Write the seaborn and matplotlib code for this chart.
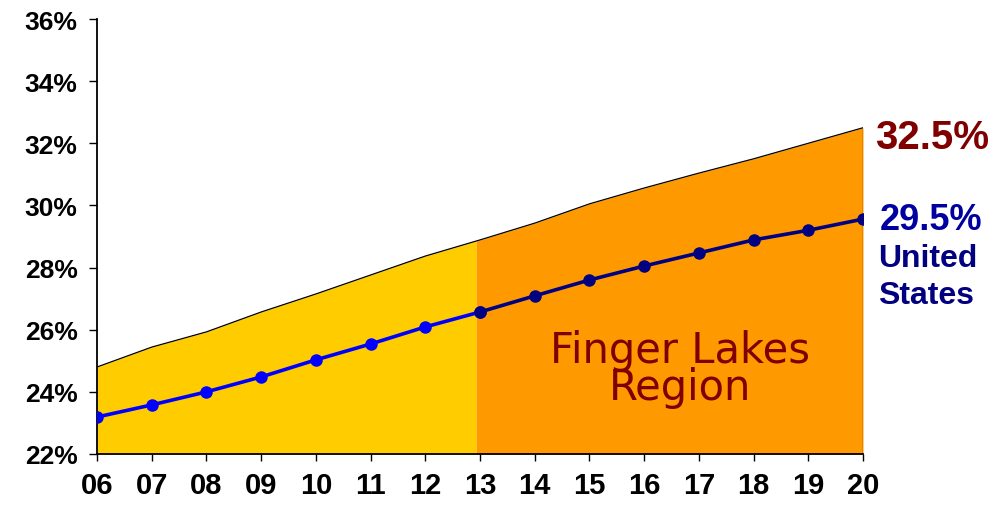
import numpy as np
import pandas as pd
import matplotlib
matplotlib.use("Agg")
import matplotlib.pyplot as plt
import seaborn as sns

years = [6, 7, 8, 9, 10, 11, 12, 13, 14, 15, 16, 17, 18, 19, 20]
year_labels = ["06", "07", "08", "09", "10", "11", "12", "13", "14", "15", "16", "17", "18", "19", "20"]
finger_lakes = [24.8, 25.44, 25.93, 26.57, 27.15, 27.76, 28.37, 28.89, 29.43, 30.05, 30.56, 31.04, 31.5, 32.0, 32.5]
united_states = [23.19, 23.58, 24.0, 24.48, 25.03, 25.54, 26.09, 26.57, 27.09, 27.6, 28.05, 28.47, 28.89, 29.2, 29.56]
y_ticks = [22, 24, 26, 28, 30, 32, 34, 36]
split_year = 12.93

sns.set_style("white")
plt.rcParams['font.family'] = ['Liberation Sans', 'DejaVu Sans']
plt.rcParams['text.color'] = 'black'
plt.rcParams['xtick.color'] = 'black'
plt.rcParams['ytick.color'] = 'black'

fig = plt.figure(figsize=(9.91, 5.10), dpi=100)
ax = fig.add_axes([97/991, 1-455/510, (863-97)/991, (455-20)/510])

x = np.array(years, dtype=float)
fl = np.array(finger_lakes)

# yellow part
xs1 = np.append(x[x < split_year], split_year)
ys1 = np.interp(xs1, x, fl)
ax.fill_between(xs1, 22, ys1, color="#FFCC00", linewidth=0, zorder=1)
# orange part
xs2 = np.insert(x[x > split_year], 0, split_year)
ys2 = np.interp(xs2, x, fl)
ax.fill_between(xs2, 22, ys2, color="#FF9900", linewidth=0, zorder=1)
ax.plot(x, fl, color="black", linewidth=0.9, zorder=2)
ax.plot([20, 20], [22, fl[-1]], color="black", linewidth=0.9, zorder=2)

df = pd.DataFrame({"year": years, "us": united_states})
df1 = df[df.year <= 13]
df2 = df[df.year >= 13]
sns.lineplot(data=df1, x="year", y="us", ax=ax, color="#0000FF", linewidth=2.6,
             marker="o", markersize=9, markeredgewidth=0, zorder=4)
sns.lineplot(data=df2, x="year", y="us", ax=ax, color="#000080", linewidth=2.6,
             marker="o", markersize=9, markeredgewidth=0, zorder=5)

ax.set_xlim(6, 20)
ax.set_ylim(22, 36)
ax.set_xlabel("")
ax.set_ylabel("")
ax.set_xticks(years)
ax.set_xticklabels(year_labels)
ax.set_yticks(y_ticks)
ax.set_yticklabels([f"{v}%" for v in y_ticks])

for lab in ax.get_yticklabels():
    lab.set_fontsize(19)
    lab.set_fontweight("bold")
    lab.set_color("black")
    lab.set_family(['Liberation Sans', 'DejaVu Sans'])
for lab in ax.get_xticklabels():
    lab.set_fontsize(21)
    lab.set_fontweight("bold")
    lab.set_color("black")
    lab.set_family(['Liberation Sans Narrow', 'Liberation Sans', 'DejaVu Sans'])

ax.tick_params(axis="y", direction="out", length=6, width=1, colors="black", pad=8, left=True)
ax.tick_params(axis="x", direction="out", length=5, width=1, colors="black", pad=7, bottom=True)

for s in ["top", "right"]:
    ax.spines[s].set_visible(False)
for s in ["left", "bottom"]:
    ax.spines[s].set_visible(True)
    ax.spines[s].set_color("black")
    ax.spines[s].set_linewidth(1.3)

ax.text(16.66, 24.74, "Finger Lakes\nRegion", ha="center", va="center", fontsize=30,
        color="#800000", family=['DejaVu Sans'], linespacing=0.85, zorder=6)

ax.text(20.22, 32.2, "32.5%", ha="left", va="center", fontsize=29, fontweight="bold",
        color="#800000", clip_on=False)
ax.text(20.3, united_states[-1], "29.5%", ha="left", va="center", fontsize=26, fontweight="bold",
        color="#0000A0", clip_on=False)
ax.text(20.27, 27.7, "United\nStates", ha="left", va="center", fontsize=23, fontweight="bold",
        color="#000080", linespacing=1.3, clip_on=False)

fig.savefig("out.png", dpi=100)
